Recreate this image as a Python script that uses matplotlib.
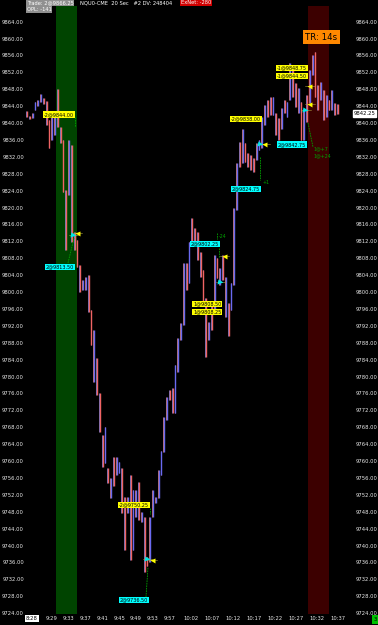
import matplotlib
matplotlib.use("Agg")
import matplotlib.pyplot as plt
import matplotlib.transforms as mtransforms
import numpy as np

# 20 sec NQ bars (every second bar kept), minutes after 9:29
bar_step = 2 / 3
first_bar = -6.0
highs = [9842.75, 9841.75, 9842.5, 9845.0, 9845.5, 9847.0, 9846.0, 9845.25, 9840.75, 9841.5,
         9842.5, 9848.0, 9839.0, 9836.0, 9824.25, 9836.0, 9834.75, 9814.25, 9812.25, 9806.5,
         9802.75, 9803.5, 9804.0, 9795.75, 9791.0, 9784.5, 9776.0, 9766.25, 9768.0, 9758.25,
         9756.0, 9761.0, 9761.0, 9759.75, 9758.25, 9751.5, 9751.5, 9756.75, 9753.25, 9753.25,
         9755.0, 9748.0, 9746.75, 9737.25, 9746.75, 9753.25, 9751.5, 9758.0, 9762.5, 9770.5,
         9775.25, 9776.75, 9777.25, 9782.75, 9789.25, 9792.75, 9807.0, 9807.0, 9811.75, 9817.5,
         9815.25, 9814.25, 9809.5, 9805.25, 9798.5, 9793.0, 9797.0, 9808.75, 9808.0, 9805.75,
         9808.75, 9803.5, 9797.5, 9802.25, 9820.0, 9830.5, 9835.5, 9838.5, 9835.25, 9833.0,
         9832.5, 9831.75, 9835.25, 9836.0, 9841.5, 9844.25, 9845.5, 9846.25, 9846.25, 9842.5,
         9841.25, 9843.5, 9845.5, 9845.0, 9854.25, 9852.5, 9849.5, 9848.25, 9845.0, 9843.0,
         9846.75, 9852.5, 9856.0, 9856.75, 9849.0, 9849.75, 9847.75, 9846.75, 9845.5, 9847.75,
         9844.75, 9844.5]
lows = [9841.5, 9841.0, 9841.25, 9843.0, 9844.0, 9845.0, 9844.5, 9839.5, 9834.0, 9836.0,
        9837.25, 9839.0, 9835.25, 9823.75, 9810.0, 9823.0, 9811.75, 9810.0, 9806.0, 9800.0,
        9800.5, 9800.5, 9795.25, 9787.5, 9778.75, 9775.75, 9767.0, 9758.5, 9759.5, 9754.75,
        9751.25, 9754.0, 9756.75, 9757.25, 9747.75, 9739.0, 9747.75, 9736.5, 9739.0, 9746.75,
        9746.0, 9745.5, 9733.75, 9735.25, 9736.0, 9746.75, 9750.0, 9751.25, 9756.75, 9762.25,
        9769.75, 9774.5, 9771.5, 9771.5, 9781.0, 9788.75, 9792.25, 9800.5, 9802.25, 9811.25,
        9811.75, 9807.5, 9803.5, 9798.0, 9784.75, 9788.75, 9791.0, 9795.25, 9803.25, 9801.75,
        9802.75, 9794.0, 9789.5, 9795.75, 9801.75, 9819.5, 9829.5, 9830.5, 9830.75, 9829.5,
        9829.0, 9828.5, 9831.25, 9833.75, 9834.0, 9839.5, 9841.5, 9842.0, 9842.0, 9837.25,
        9836.0, 9838.5, 9842.5, 9841.5, 9845.5, 9846.25, 9843.75, 9842.5, 9836.0, 9836.0,
        9840.25, 9844.75, 9851.5, 9846.25, 9843.0, 9845.5, 9840.75, 9841.5, 9843.0, 9843.0,
        9842.0, 9842.25]
direction = ("dduuuudddu" "uddddudddd" "uuddudddud" "uduudduduu" "dudduuuuuu"
             "udduuuudud" "dddddududu" "duduuududd" "dduuuuddud" "duduuddudu"
             "duuddududu" "dd")
last_price = 9842.25

time_labels = ["9:29", "9:33", "9:37", "9:41", "9:45", "9:49", "9:53", "9:57", "10:02",
               "10:07", "10:12", "10:17", "10:22", "10:27", "10:32", "10:37"]
price_ticks = np.arange(9724, 9865, 4)
bands = [("9:30", "9:35", "#004400"), ("10:30", "10:35", "#3c0000")]

# fills: minutes after 9:29, price, side
fill_times = [5.0, 5.95, 22.6, 23.8, 40.0, 40.95, 49.5, 50.5, 60.25, 61.2, 61.2]
fill_prices = [9813.5, 9814.0, 9736.75, 9736.5, 9802.5, 9808.5, 9835.0, 9835.0, 9843.0, 9848.75, 9844.5]
fill_sides = ["b", "s", "b", "s", "b", "s", "b", "s", "b", "s", "s"]

order_texts = ["-2@9844.00", "2@9813.50", "-2@9750.25", "2@9736.50", "2@9802.25", "1@9808.50",
               "1@9808.25", "2@9824.75", "-2@9838.00", "2@9842.75", "-1@9848.75", "-1@9844.50"]
order_colors = ["#ffff00", "#00ffff", "#ffff00", "#00ffff", "#00ffff", "#ffff00",
                "#ffff00", "#00ffff", "#ffff00", "#00ffff", "#ffff00", "#ffff00"]
# label placement in pixels (left x, centre y)
order_pos = [(44, 114.5), (46, 267), (119, 505), (120, 600), (191, 244), (193, 304),
             (193, 312), (232, 189), (231, 119), (278, 144.5), (277, 68), (277, 76)]


def minutes(t):
    h, m = t.split(":")
    return (int(h) - 9) * 60 + int(m) - 29


W, H = 378, 625
def mx(x):
    return (x - 52) / 4.2

def py(y):
    return 9869.136 - y / 4.225


fig = plt.figure(figsize=(W / 100, H / 100), dpi=100, facecolor="black")
ax = fig.add_axes([26 / W, 1 - 614 / H, (341 - 26) / W, (614 - 6) / H])
ax.set_facecolor("black")
for s in ax.spines.values():
    s.set_visible(False)
ax.set_xlim(mx(26), mx(341))
ax.set_ylim(py(614), py(6))

for a, b, c in bands:
    ax.axvspan(minutes(a), minutes(b), color=c, lw=0, zorder=0)

t = first_bar + bar_step * np.arange(len(highs))
cols = np.array(["#6a6af0" if d == "u" else "#f06464" for d in direction])
other = np.array(["#f09090" if d == "u" else "#9090f0" for d in direction])
ax.vlines(t - 0.13, lows, highs, colors=other, lw=0.55, zorder=2)
ax.vlines(t + 0.06, lows, highs, colors=cols, lw=1.0, zorder=3)

# green trade lines
green = "#00a000"
for (x1, y1), (x2, y2) in [((68, 263), (74, 238)), ((75, 117), (75, 127)),
                           ((146, 597), (148, 567)), ((150, 508), (150, 514)),
                           ((217, 233), (217, 239)), ((219, 248), (219, 257)),
                           ((260, 157), (260, 180)), ((308, 123), (313, 147))]:
    ax.plot([mx(x1), mx(x2)], [py(y1), py(y2)], color=green, lw=0.6, ls=(0, (2, 1)), zorder=4)
for x, y, s in [(219, 236, "-24"), (263, 183, "+1"), (313, 149, "1@+7"), (313, 156, "1@+24")]:
    ax.text(mx(x), py(y), s, color=green, fontsize=3.4, va="center", ha="left", zorder=6)

# cursor ticks beside fills
for tt, pp in zip(fill_times, fill_prices):
    ax.plot([tt - 1.0, tt + 1.3], [pp, pp], color="#b0a040", lw=0.4, zorder=4)
for tt, pp, sd in zip(fill_times, fill_prices, fill_sides):
    if sd == "b":
        ax.plot(tt, pp, marker=">", ms=3.6, color="#00e8e8", mec="none", zorder=7)
    else:
        ax.plot(tt, pp, marker="<", ms=3.6, color="#ffff00", mec="none", zorder=7)

for s, c, (x, y) in zip(order_texts, order_colors, order_pos):
    ax.text(mx(x), py(y), s, color="black", fontsize=3.5, ha="left", va="center", zorder=8,
            bbox=dict(boxstyle="square,pad=0.15", fc=c, ec="none"))

# axes labels, both sides
ax.set_yticks(price_ticks)
ax.set_yticklabels(["%.2f" % v for v in price_ticks])
ax.tick_params(axis="y", length=0, labelsize=3.8, labelcolor="#e8e8e8",
               labelleft=True, labelright=True, pad=1.5)
for tl in ax.yaxis.get_major_ticks():
    tl.label2.set_x(1 + 12.5 / (341 - 26))
ax.set_xticks([minutes(s) for s in time_labels])
ax.set_xticklabels(time_labels)
ax.tick_params(axis="x", length=0, labelsize=3.8, labelcolor="#e8e8e8", pad=1.2)

tr = mtransforms.blended_transform_factory(fig.transFigure, ax.transData)
ax.text(353.5 / W, last_price, "%.2f" % last_price, transform=tr, fontsize=3.8, color="black",
        ha="left", va="center", bbox=dict(boxstyle="square,pad=0.15", fc="white", ec="white"))

# top info bar and boxes
fig.text(27 / W, 1 - 3 / H, "Trade: 2@9866.25", color="white", fontsize=3.7, va="center",
         bbox=dict(boxstyle="square,pad=0.12", fc="#909090", ec="none"))
fig.text(80 / W, 1 - 3 / H, "NQU0-CME  20 Sec   #2 DV: 248404", color="white", fontsize=3.7,
         va="center")
fig.text(181 / W, 1 - 3 / H, "ExNet: -280", color="white", fontsize=3.7, va="center",
         bbox=dict(boxstyle="square,pad=0.12", fc="#d00000", ec="none"))
fig.text(27 / W, 1 - 9.5 / H, "OPL: -141", color="white", fontsize=3.7, va="center",
         bbox=dict(boxstyle="square,pad=0.12", fc="#909090", ec="none"))
fig.text(321.5 / W, 1 - 37 / H, "TR: 14s", color="black", fontsize=6.2, ha="center",
         va="center", bbox=dict(boxstyle="square,pad=0.25", fc="#ff8800", ec="none"))
fig.text(32 / W, 1 - 618.5 / H, "8:28", color="black", fontsize=3.8, ha="center", va="center",
         bbox=dict(boxstyle="square,pad=0.15", fc="white", ec="none"))
fig.text(375 / W, 1 - 619.5 / H, "3", color="black", fontsize=3.8, ha="center", va="center",
         bbox=dict(boxstyle="square,pad=0.3", fc="#00c000", ec="none"))

fig.savefig("out.png", dpi=100, facecolor="black")
